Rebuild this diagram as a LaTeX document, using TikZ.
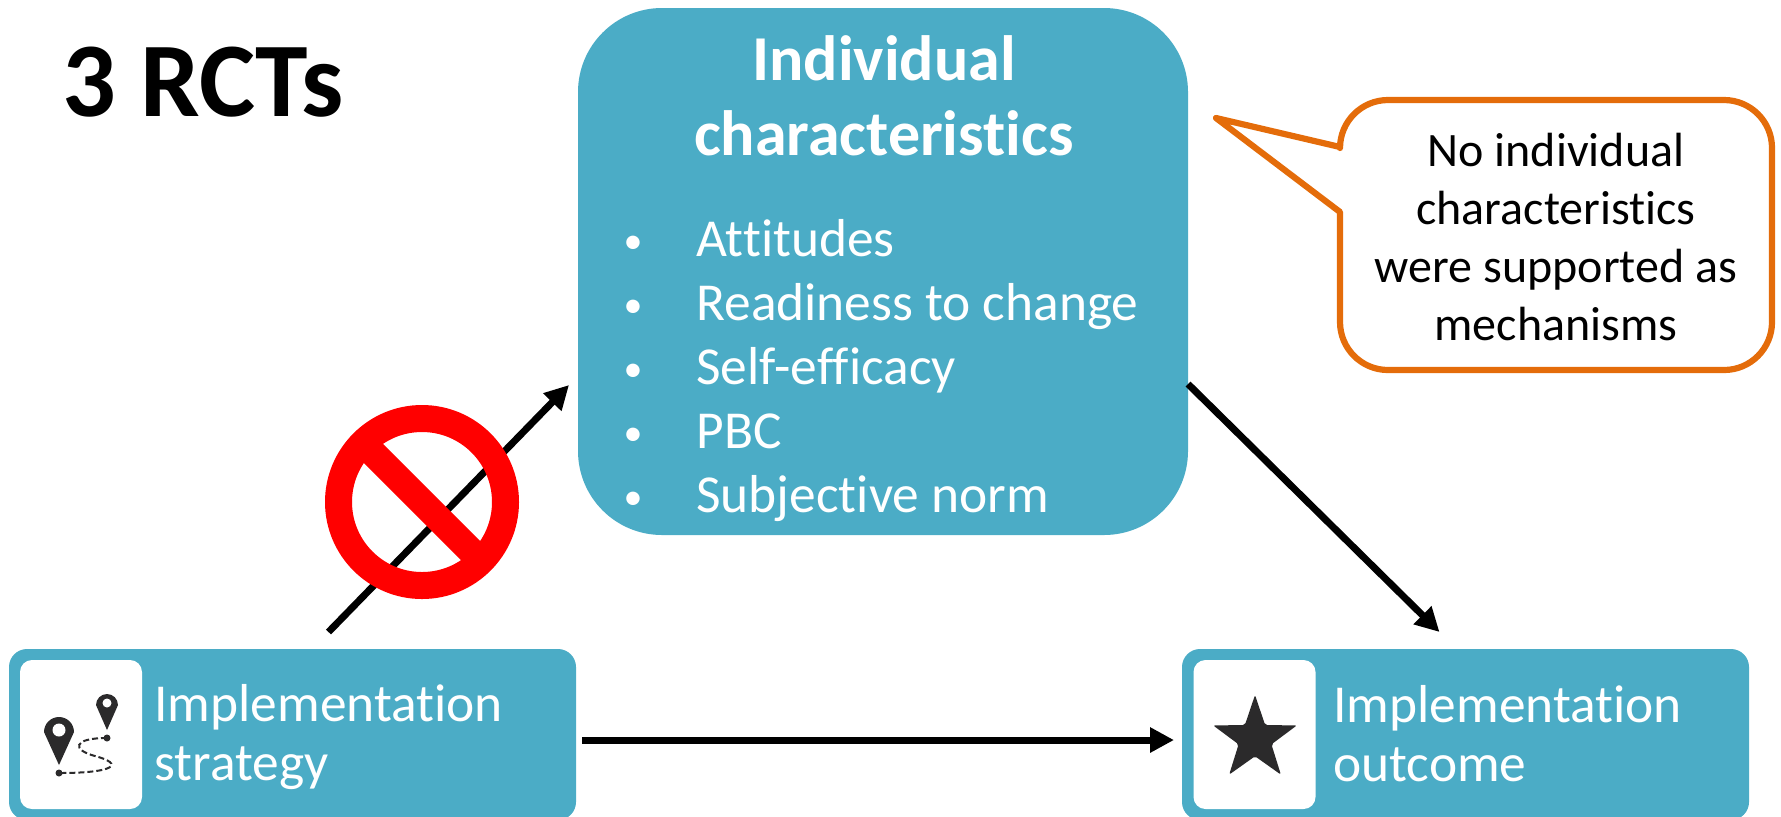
\documentclass[tikz,border=0pt]{standalone}
\usepackage{fontspec}
\setmainfont[Ligatures=NoCommon]{Carlito}
\usetikzlibrary{arrows.meta,shapes.geometric}
\definecolor{boxblue}{HTML}{4BACC6}
\definecolor{noteorange}{HTML}{E46C0A}
\definecolor{icongray}{HTML}{2B2A2B}
\tikzset{
	bluebox/.style={fill=boxblue,outer sep=0pt,inner sep=0pt},
	whitebox/.style={fill=white,outer sep=0pt,inner sep=0pt,minimum width=61pt,minimum height=74.5pt,rounded corners=6pt},
	boxtext/.style={text=white,font=\fontsize{26.7}{29.5}\selectfont,align=left,anchor=west,inner sep=0pt},
	itemtext/.style={text=white,font=\fontsize{26.7}{29}\selectfont,inner sep=0pt},
	arrowline/.style={line width=3.5pt,-{Triangle[length=12pt,width=12pt]}},
}
\begin{document}
\begin{tikzpicture}[x=0.5pt,y=-0.5pt]
	\useasboundingbox (0,0) rectangle (1781,816);
	\path
	(1340,147) coordinate (N1)
	(1340,212) coordinate (N2)
	(1216,118) coordinate (T)
	;
	\node[font=\fontsize{53}{60}\selectfont\bfseries,anchor=base west,inner sep=0pt] (title) at (62,116) {3 RCTs};
	% boxes
	\node[bluebox,minimum width=305pt,minimum height=263.5pt,rounded corners=42pt] (traits) at (883,271.5) {};
	\node[bluebox,minimum width=283.5pt,minimum height=85.5pt,rounded corners=9pt] (strategy) at (292.5,734.5) {};
	\node[bluebox,minimum width=283.5pt,minimum height=85.5pt,rounded corners=9pt] (outcome) at (1465.5,734.5) {};
	\node[whitebox] (strategyicon) at (81,734.5) {};
	\node[whitebox] (outcomeicon) at (1254.5,734.5) {};
	\node[boxtext] (strategytext) at (154,737) {Implementation\\strategy};
	\node[boxtext] (outcometext) at (1333,734) {Implementation\\outcome};
	\node[text=white,font=\fontsize{32}{37.5}\selectfont\bfseries,align=center,inner sep=0pt] (traitstitle) at (884,96) {Individual\\characteristics};
	\foreach \n/\y/\t in {1/256/Attitudes,2/320/Readiness to change,3/384/Self-efficacy,4/448/PBC,5/512/Subjective norm}{
		\node[itemtext,font=\fontsize{19}{29}\selectfont,anchor=base] (bullet\n) at (633,\y-3) {\textbullet};
		\node[itemtext,anchor=base west] (item\n) at (696,\y) {\t};
	}
	% arrows
	\draw[arrowline] ([xshift=18pt,yshift=8.5pt]strategy.north) -- ([xshift=-4.5pt,yshift=-56.75pt]traits.west);
	\draw[arrowline] ([yshift=-56.25pt]traits.east) -- ([xshift=-13pt,yshift=8.5pt]outcome.north);
	\draw[arrowline] ([xshift=3pt,yshift=-2.75pt]strategy.east) -- ([xshift=-4pt,yshift=-2.75pt]outcome.west);
	% no sign
	\node[circle,draw=red,line width=13.5pt,minimum size=83.5pt,inner sep=0pt,outer sep=0pt] (nosign) at (422,502) {};
	\draw[red,line width=13.5pt] (nosign.north west) -- (nosign.south east);
	% callout
	\draw[noteorange,line width=3.1pt,fill=white,line join=round] (T) -- (N1)
	{[rounded corners=24pt] -- (1340,100) -- (1772,100) -- (1772,370) -- (1340,370)} -- (N2) -- cycle;
	\node[font=\fontsize{24}{29}\selectfont,align=center,inner sep=0pt] (note) at (1556,237) {No individual\\characteristics\\were supported as\\mechanisms};
	% icons
	\foreach \x/\y/\r/\h/\i in {59/730/15/35/6.5,107/703/11/27/4.5}{
		\fill[icongray] (\x,\y+\h) -- (\x-\r,\y+2) arc[start angle=180,end angle=360,radius=\r] -- cycle;
		\fill[white] (\x,\y) circle[radius=\i];
	}
	\fill[icongray] (59,773) circle[radius=3.5] (107,738) circle[radius=3.5];
	\draw[icongray,line width=1pt,dash pattern=on 3pt off 1.5pt] (107,738) .. controls (72,738) and (72,750) .. (95,756) .. controls (125,764) and (115,773) .. (59,773);
	\node[star,star points=5,star point ratio=2.55,fill=icongray,minimum size=44pt,inner sep=0pt,rounded corners=1pt] (staricon) at (1255,739) {};
\end{tikzpicture}
\end{document}
